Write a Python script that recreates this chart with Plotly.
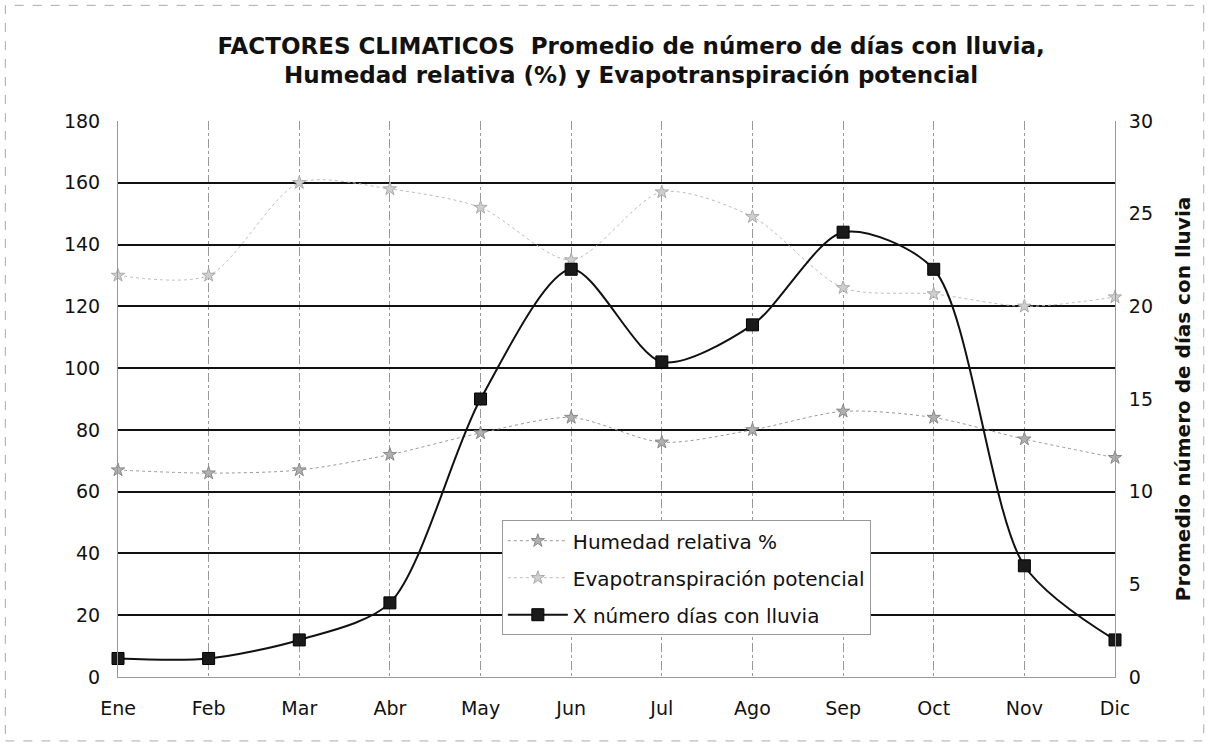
import plotly.graph_objects as go

meses = ["Ene", "Feb", "Mar", "Abr", "May", "Jun", "Jul", "Ago", "Sep", "Oct", "Nov", "Dic"]
humedad = [67, 66, 67, 72, 79, 84, 76, 80, 86, 84, 77, 71]
evapo = [130, 130, 160, 158, 152, 135, 157, 149, 126, 124, 120, 123]
lluvia = [1, 1, 2, 4, 15, 22, 17, 19, 24, 22, 6, 2]

FONT = "DejaVu Sans, Liberation Sans, Arial, sans-serif"

fig = go.Figure()
fig.add_trace(go.Scatter(
    x=meses, y=humedad, name="Humedad relativa %", mode="lines+markers", legendgroup="a",
    line=dict(color="#9a9a9a", width=1, dash="dot", shape="spline", smoothing=0.8),
    marker=dict(symbol="star", size=10, color="#b0b0b0", line=dict(color="#888", width=1)),
    cliponaxis=False,
))
fig.add_trace(go.Scatter(
    x=meses, y=evapo, name="Evapotranspiración potencial", mode="lines+markers", legendgroup="b",
    line=dict(color="#bdbdbd", width=1, dash="dot", shape="spline", smoothing=0.8),
    marker=dict(symbol="star", size=10, color="#cfcfcf", line=dict(color="#aaa", width=1)),
    cliponaxis=False,
))
fig.add_trace(go.Scatter(
    x=meses, y=lluvia, name="X número días con lluvia", mode="lines+markers", yaxis="y2", legendgroup="c",
    line=dict(color="#111", width=2, shape="spline", smoothing=0.8),
    marker=dict(symbol="square", size=12, color="#1a1a1a", line=dict(color="#000", width=1)),
    cliponaxis=False,
))

fig.update_layout(
    width=1209, height=746,
    margin=dict(l=118, r=94, t=121, b=69),
    paper_bgcolor="white", plot_bgcolor="white",
    font=dict(family=FONT, size=19, color="#111"),
    title=dict(
        text="<b>FACTORES CLIMATICOS  Promedio de número de días con lluvia,<br>Humedad relativa (%) y Evapotranspiración potencial</b>",
        x=0.522, xanchor="center", y=0.955, yanchor="top", pad=dict(t=20),
        font=dict(family=FONT, size=23, color="#111"),
    ),
    xaxis=dict(
        type="category", range=[0, 11], showgrid=True, gridcolor="#999", griddash="dashdot", gridwidth=1,
        showline=True, linecolor="#999", linewidth=1, ticks="", tickfont=dict(size=19),
        ticklabelstandoff=14, zeroline=False,
    ),
    yaxis=dict(
        range=[0, 180], dtick=20, showgrid=True, gridcolor="#111", gridwidth=2,
        showline=True, linecolor="#999", linewidth=1, ticks="", zeroline=False,
        tickfont=dict(size=19), ticklabelstandoff=13,
    ),
    yaxis2=dict(
        range=[0, 30], dtick=5, overlaying="y", side="right", showgrid=False,
        showline=True, linecolor="#999", linewidth=1, ticks="", zeroline=False,
        tickfont=dict(size=19), ticklabelstandoff=9,
        title=dict(text="<b>Promedio número de días con lluvia</b>", font=dict(size=20), standoff=24),
    ),
    legend=dict(
        x=0.385, y=0.282, xanchor="left", yanchor="top",
        bgcolor="white", bordercolor="#999", borderwidth=1,
        font=dict(size=20), tracegroupgap=8, traceorder="grouped", itemwidth=60,
    ),
    shapes=[dict(type="rect", xref="paper", yref="paper", x0=-0.113, x1=1.089, y0=-0.115, y1=1.208,
                 line=dict(color="#aaa", width=1, dash="dash"))],
)

fig.write_html("out.html", config={"displayModeBar": False},
               post_script="document.body.style.margin='0';")
